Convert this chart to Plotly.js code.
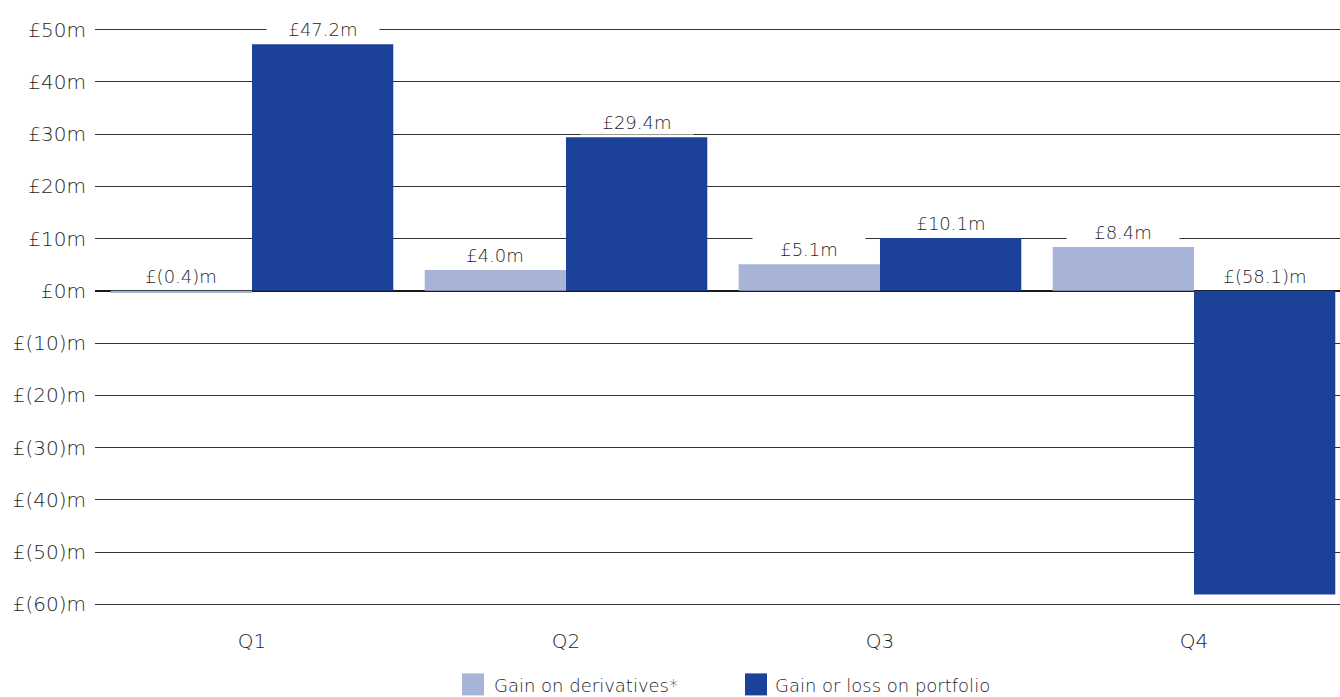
<!DOCTYPE html>
<html><head><meta charset="utf-8">
<script src="https://cdn.plot.ly/plotly-3.0.1.min.js"></script>
<style>html,body{margin:0;padding:0;background:#fff}#chart{width:1340px;height:697px}</style>
</head><body><div id="chart"></div>
<script>
const categories = ["Q1", "Q2", "Q3", "Q4"];
const derivatives = [-0.4, 4.0, 5.1, 8.4];
const portfolio = [47.2, 29.4, 10.1, -58.1];
const derivLabels = ["£(0.4)m", "£4.0m", "£5.1m", "£8.4m"];
const portLabels = ["£47.2m", "£29.4m", "£10.1m", "£(58.1)m"];
const tickVals = [50, 40, 30, 20, 10, 0, -10, -20, -30, -40, -50, -60];
const tickText = ["£50m", "£40m", "£30m", "£20m", "£10m", "£0m", "£(10)m", "£(20)m", "£(30)m", "£(40)m", "£(50)m", "£(60)m"];
const seriesNames = ["Gain on derivatives*", "Gain or loss on portfolio"];

const LIGHT = "#a7b4d7", DARK = "#1c4199", TXT = "#1e1e1e";
const FONT = "DejaVu Sans, Liberation Sans, sans-serif";
const W = 300;

const traces = [
  {type: "bar", x: categories, y: derivatives, name: seriesNames[0], marker: {color: LIGHT}, showlegend: false, hoverinfo: "none"},
  {type: "bar", x: categories, y: portfolio, name: seriesNames[1], marker: {color: DARK}, showlegend: false, hoverinfo: "none"}
];

const annotations = [];
function addLabels(vals, labels, off) {
  vals.forEach((v, i) => {
    annotations.push({
      x: i, y: Math.max(v, 0), xref: "x", yref: "y", xshift: off,
      text: labels[i], showarrow: false, yanchor: "bottom", yshift: 2,
      bgcolor: "#ffffff", width: 110, borderpad: 1,
      font: {family: FONT, size: 18, color: TXT, weight: W}
    });
  });
}
addLabels(derivatives, derivLabels, -71);
addLabels(portfolio, portLabels, 71);

// custom legend (paper coordinates)
const PL = 95, PW = 1245, PB = 609.6, PH = 580;
const py = (px) => (PB - px) / PH;
const shapes = [
  {type: "rect", xref: "paper", yref: "paper", x0: (462-PL)/PW, x1: (484-PL)/PW, y0: py(698), y1: py(676), fillcolor: LIGHT, line: {width: 0}},
  {type: "rect", xref: "paper", yref: "paper", x0: (745-PL)/PW, x1: (767-PL)/PW, y0: py(698), y1: py(676), fillcolor: DARK, line: {width: 0}}
];
annotations.push({xref: "paper", yref: "paper", x: (492-PL)/PW, y: py(688), xanchor: "left", yanchor: "middle", showarrow: false, text: seriesNames[0], font: {family: FONT, size: 18, color: TXT, weight: W}});
annotations.push({xref: "paper", yref: "paper", x: (773-PL)/PW, y: py(688), xanchor: "left", yanchor: "middle", showarrow: false, text: seriesNames[1], font: {family: FONT, size: 18, color: TXT, weight: W}});

const layout = {
  width: 1340, height: 697,
  margin: {l: 95, r: 0, t: 27, b: 90, pad: 0},
  paper_bgcolor: "#ffffff", plot_bgcolor: "#ffffff",
  barmode: "group", bargap: 0.1, bargroupgap: 0,
  font: {family: FONT, size: 19, color: TXT, weight: W},
  xaxis: {
    range: [-0.5, 3.465], showgrid: false, zeroline: false, showline: false,
    ticks: "", tickfont: {family: FONT, size: 20, color: TXT, weight: W}, ticklabelstandoff: 20, fixedrange: true
  },
  yaxis: {
    range: [-60.5, 50.5], tickvals: tickVals, ticktext: tickText, showgrid: true,
    gridcolor: "#333333", gridwidth: 1.2, zeroline: true, zerolinecolor: "#1a1a1a", zerolinewidth: 2.2,
    showline: false, ticks: "", tickfont: {family: FONT, size: 20, color: TXT, weight: W}, ticklabelstandoff: 8, fixedrange: true
  },
  annotations: annotations, shapes: shapes, showlegend: false
};

Plotly.newPlot("chart", traces, layout, {displayModeBar: false, staticPlot: true});
</script></body></html>
